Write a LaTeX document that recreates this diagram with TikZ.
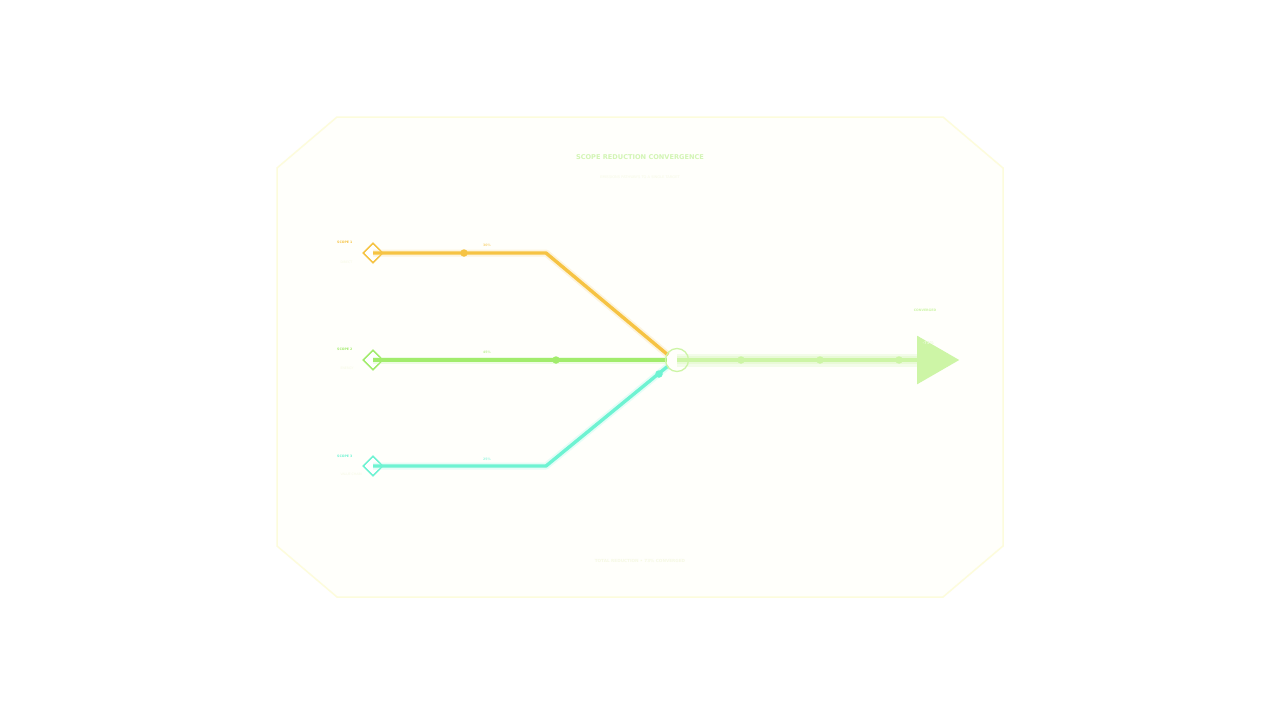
\documentclass[tikz,border=0pt]{standalone}
\usepackage{fontspec}
\setmainfont{DejaVu Sans}
\usetikzlibrary{shapes.geometric}
\definecolor{frameline}{HTML}{FDFCDC}
\definecolor{framefill}{HTML}{FFFFFB}
\definecolor{cOrange}{HTML}{F6C343}
\definecolor{cGreen}{HTML}{A2EC6C}
\definecolor{cCyan}{HTML}{6EF3D2}
\definecolor{cOut}{HTML}{CDF5A6}
\definecolor{cTitle}{HTML}{D2F5B4}
\definecolor{cFaint}{HTML}{F6F9E4}
\tikzset{
  scopediamond/.style={diamond, draw=#1, line width=1.3pt, fill=white, minimum width=20pt, minimum height=20pt, inner sep=0pt},
  scopeline/.style={draw=#1, line width=3.4pt, line join=round},
  scopeglow/.style={draw=#1!18, line width=7pt, line join=round},
  waydot/.style={circle, fill=#1, minimum size=7.5pt, inner sep=0pt},
  tinylabel/.style={font=\fontsize{3.2}{4}\selectfont\bfseries, text=#1, inner sep=0pt},
}
\begin{document}
\begin{tikzpicture}[x=1pt,y=-1pt]
\useasboundingbox (0,0) rectangle (1280,720);
\fill[white] (0,0) rectangle (1280,720);
% frame
\draw[frameline, fill=framefill, line width=1.5pt]
  (337,117) -- (943,117) -- (1003,168) -- (1003,546) -- (943,597) -- (337,597) -- (277,546) -- (277,168) -- cycle;
% title
\node[font=\fontsize{6.6}{8}\selectfont\bfseries, text=cTitle] (title) at (640,157) {SCOPE REDUCTION CONVERGENCE};
\node[font=\fontsize{3.6}{4}\selectfont, text=cFaint] (subtitle) at (640,177) {EMISSIONS PATHWAYS TO A SINGLE TARGET};
% coordinates
\coordinate (o1) at (546,253);
\coordinate (c1) at (546,466);
\coordinate (cin1) at (668,355);
\coordinate (cin2) at (667,360);
\coordinate (cin3) at (668,366);
% glow of output
\draw[cOut!25, line width=13pt] (677,360) -- (920,360);
\draw[cOut!45, line width=8pt] (677,360) -- (920,360);
% scope lines
\node[scopediamond=cOrange] (d1) at (373,253) {};
\node[scopediamond=cGreen] (d2) at (373,360) {};
\node[scopediamond=cCyan] (d3) at (373,466) {};
\draw[scopeglow=cOrange] (d1.center) -- (o1) -- (cin1);
\draw[scopeglow=cGreen] (d2.center) -- (cin2);
\draw[scopeglow=cCyan] (d3.center) -- (c1) -- (cin3);
\draw[scopeline=cOrange] (d1.center) -- (o1) -- (cin1);
\draw[scopeline=cGreen] (d2.center) -- (cin2);
\draw[scopeline=cCyan] (d3.center) -- (c1) -- (cin3);
\node[scopediamond=cOrange, fill=none] at (373,253) {};
\node[scopediamond=cGreen, fill=none] at (373,360) {};
\node[scopediamond=cCyan, fill=none] at (373,466) {};
% dots on lines
\node[waydot=cOrange] (p1) at (464,253) {};
\node[waydot=cGreen] (p2) at (556,360) {};
\node[waydot=cCyan] (p3) at (659,374) {};
% convergence node
\node[circle, draw=cOut, line width=1.3pt, minimum size=23pt, inner sep=0pt] (conv) at (677,360) {};
% output
\node[isosceles triangle, isosceles triangle apex angle=60, fill=cOut, minimum height=42pt, inner sep=0pt, anchor=west] (arrow) at (917,360) {};
\draw[cOut, line width=4.5pt] (conv.center) -- (arrow.west);
\node[waydot=cOut] at (741,360) {};
\node[waydot=cOut] at (820,360) {};
\node[waydot=cOut] at (899,360) {};
% labels
\node[tinylabel=cOrange, anchor=west] (l1) at (337,242) {SCOPE 1};
\node[tinylabel=cGreen, anchor=west] (l2) at (337,349) {SCOPE 2};
\node[tinylabel=cCyan, anchor=west] (l3) at (337,456) {SCOPE 3};
\node[font=\fontsize{3.2}{4}\selectfont, text=cFaint, anchor=west] at (337,262) {DIRECT};
\node[font=\fontsize{3.2}{4}\selectfont, text=cFaint, anchor=west] at (337,368) {ENERGY};
\node[font=\fontsize{3.2}{4}\selectfont, text=cFaint, anchor=west] at (337,474) {VALUE CHAIN};
\node[tinylabel=cOrange!70] at (487,245) {30\%};
\node[tinylabel=cGreen!70] at (487,352) {45\%};
\node[tinylabel=cCyan!70] at (487,459) {25\%};
\node[tinylabel=cOut] at (925,310) {CONVERGED};
\node[font=\fontsize{4}{5}\selectfont\bfseries, text=white!60!cOut, anchor=west] at (919,343) {-73\%};
\node[font=\fontsize{4.2}{5}\selectfont\bfseries, text=cFaint] (foot) at (640,561) {TOTAL REDUCTION \textbullet{} 73\% CONVERGED};
\end{tikzpicture}
\end{document}
